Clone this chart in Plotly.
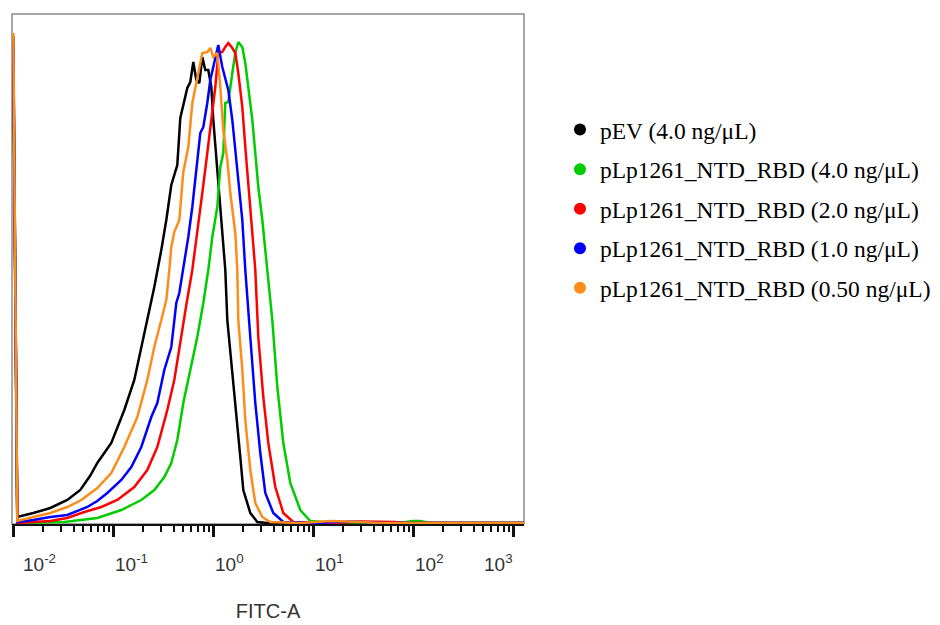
import numpy as np
import plotly.graph_objects as go

# ---------------- data (x in log10(FITC-A) decades, y in % of mode) ----------------
series_names = [
    "pEV (4.0 ng/μL)",
    "pLp1261_NTD_RBD (4.0 ng/μL)",
    "pLp1261_NTD_RBD (2.0 ng/μL)",
    "pLp1261_NTD_RBD (1.0 ng/μL)",
    "pLp1261_NTD_RBD (0.50 ng/μL)",
]
series_colors = ["#000000", "#00cc00", "#ff0000", "#0000ff", "#ff8c1a"]

pev_4_log = [-2.00, -1.96, -1.80, -1.63, -1.46, -1.33, -1.23, -1.16, -1.02, -0.89, -0.79, -0.72,
             -0.66, -0.59, -0.52, -0.47, -0.42, -0.36, -0.33, -0.29, -0.26, -0.23, -0.20, -0.17,
             -0.14, -0.11, -0.08, -0.05, -0.02, 0.00, 0.04, 0.07, 0.10, 0.12, 0.14, 0.19, 0.24,
             0.27, 0.30, 0.37, 0.44, 0.54, 0.87, 1.50, 2.50, 3.11]
pev_4_y = [97.4, 1.2, 2.0, 3.0, 4.6, 6.6, 9.5, 12, 16, 22.6, 28.6, 35.2, 40.6, 47.2, 54.6, 60.6,
           67.6, 71.6, 81, 84.6, 87, 88.2, 92.2, 88.6, 88, 93.2, 90.6, 90.6, 87.2, 80.6, 70.6,
           63.2, 55.2, 50.6, 40.6, 30.6, 20.6, 13.2, 6.6, 2.0, 0.2, 0, 0, 0.1, 0, 0]

rbd_4_log = [-2.00, -1.96, -1.49, -1.16, -0.92, -0.72, -0.59, -0.49, -0.42, -0.36, -0.30, -0.23,
             -0.16, -0.10, -0.05, -0.01, 0.04, 0.07, 0.10, 0.12, 0.15, 0.19, 0.22, 0.25, 0.29,
             0.32, 0.35, 0.39, 0.42, 0.45, 0.49, 0.54, 0.59, 0.64, 0.70, 0.77, 0.87, 0.97, 1.10,
             1.87, 1.99, 2.07, 2.17, 3.11]
rbd_4_y = [90, 0, 0.2, 1.0, 2.6, 4.6, 6.6, 9.2, 12, 16.6, 24, 30.6, 37.2, 44, 50.6, 57.2, 63.2,
           71.2, 74, 84, 84.2, 90, 94, 96.2, 95.2, 92, 87.2, 80.6, 74, 67.2, 60.6, 50.6, 40.6,
           27.2, 16, 8, 2.6, 0.4, 0.2, 0, 0.4, 0.4, 0, 0]

rbd_2_log = [-2.00, -1.96, -1.80, -1.63, -1.46, -1.29, -1.12, -0.96, -0.79, -0.66, -0.56, -0.46,
             -0.39, -0.33, -0.27, -0.21, -0.16, -0.11, -0.06, -0.01, 0.02, 0.05, 0.09, 0.12, 0.15,
             0.19, 0.22, 0.25, 0.29, 0.32, 0.35, 0.39, 0.42, 0.45, 0.50, 0.55, 0.62, 0.70, 0.80,
             1.20, 1.47, 1.67, 1.82, 1.90, 2.50, 3.11]
rbd_2_y = [93, 0, 0.2, 0.4, 1.0, 2.2, 3.2, 4.6, 7.2, 10.6, 15.2, 22.6, 28.6, 36.6, 43.6, 50.6,
           58, 66, 74, 82, 87.2, 94, 94.2, 95.2, 96, 95, 94, 90, 83.2, 75.2, 67.2, 58, 50.6,
           37.2, 25.2, 16, 7.2, 2.0, 0.2, 0, 0.3, 0.3, 0.2, 0, 0, 0]

rbd_1_log = [-2.00, -1.96, -1.80, -1.63, -1.46, -1.36, -1.26, -1.16, -1.06, -0.92, -0.82, -0.72,
             -0.62, -0.56, -0.49, -0.42, -0.37, -0.34, -0.30, -0.25, -0.21, -0.16, -0.13, -0.10,
             -0.06, -0.03, 0.02, 0.05, 0.09, 0.12, 0.15, 0.19, 0.22, 0.25, 0.29, 0.32, 0.37, 0.42,
             0.47, 0.52, 0.60, 0.70, 1.00, 1.27, 1.34, 1.47, 1.67, 2.50, 3.11]
rbd_1_y = [95.6, 0.2, 0.6, 1.2, 1.6, 2.4, 3.2, 4.4, 6.0, 8.6, 11.2, 15.2, 21.2, 24, 30.6, 35.2,
           44, 46, 50.6, 57.2, 63.2, 72.6, 78, 79.2, 84, 88.6, 92.6, 95.6, 91.2, 88.6, 86.6,
           80.6, 74, 68.6, 60.6, 50.6, 37.2, 24, 14, 6.0, 2.0, 0.2, 0, 0.2, 0.3, 0.2, 0, 0, 0]

rbd_05_log = [-2.00, -1.96, -1.80, -1.63, -1.46, -1.32, -1.16, -1.02, -0.89, -0.76, -0.66, -0.59,
              -0.52, -0.47, -0.44, -0.42, -0.39, -0.34, -0.30, -0.25, -0.21, -0.16, -0.13, -0.11,
              -0.06, -0.03, 0.00, 0.04, 0.07, 0.10, 0.14, 0.17, 0.22, 0.24, 0.25, 0.29, 0.32,
              0.37, 0.42, 0.49, 0.57, 0.87, 1.17, 1.27, 1.34, 1.47, 1.67, 2.50, 3.11]
rbd_05_y = [98, 0.4, 1.2, 2.0, 3.2, 4.6, 7.0, 10, 15.2, 21.2, 28.6, 35.2, 40.6, 44.6, 50.6, 55.2,
            58.2, 60.6, 70.2, 75.2, 84, 89.2, 92, 94, 94.2, 95, 93.2, 94, 87.2, 78.6, 72.6, 66,
            58, 50.6, 40.6, 30.6, 20.6, 10.6, 4.0, 1.2, 0.2, 0, 0.4, 0.4, 0.3, 0.2, 0, 0, 0]

series_logx = [pev_4_log, rbd_4_log, rbd_2_log, rbd_1_log, rbd_05_log]
series_y = [pev_4_y, rbd_4_y, rbd_2_y, rbd_1_y, rbd_05_y]

major_tick_values = [1e-2, 1e-1, 1e0, 1e1, 1e2, 1e3]
major_tick_labels = ["10<sup>-2</sup>", "10<sup>-1</sup>", "10<sup>0</sup>",
                     "10<sup>1</sup>", "10<sup>2</sup>", "10<sup>3</sup>"]
x_title = "FITC-A"

# ---------------- figure ----------------
fig = go.Figure()

for name, color, lx, yy in zip(series_names, series_colors, series_logx, series_y):
    fig.add_trace(go.Scatter(
        x=[10 ** v for v in lx], y=yy, mode="lines",
        line=dict(color=color, width=2.5),
        showlegend=False, hoverinfo="skip",
    ))

for i, (name, color) in enumerate(zip(series_names, series_colors)):
    fig.add_trace(go.Scatter(
        x=[None], y=[None], mode="markers", name=name,
        marker=dict(color=color, size=9, symbol="circle"),
        legendgroup=f"g{i}", showlegend=True,
    ))

minor_vals = [m * 10 ** d for d in range(-2, 3) for m in range(2, 10)]

fig.update_xaxes(
    type="log", range=[-2.013, 3.107],
    showgrid=False, zeroline=False,
    showline=True, linecolor="#111111", linewidth=2,
    ticks="outside", ticklen=11, tickwidth=3, tickcolor="#111111",
    tickmode="array", tickvals=major_tick_values, showticklabels=False,
    minor=dict(ticks="outside", ticklen=6, tickwidth=1.5, tickcolor="#111111",
               tickmode="array", tickvals=minor_vals, showgrid=False),
    title=dict(text=x_title, font=dict(family="Liberation Sans, Arial", size=20, color="#333333"),
               standoff=68),
)
fig.update_yaxes(range=[-0.2, 101.8], showgrid=False, zeroline=False, showline=False,
                 showticklabels=False, ticks="")

label_shift = [8, 0, 0, 0, 0, 2]
label_anchor = ["left", "left", "left", "left", "left", "right"]
for v, txt, sh, anc in zip(major_tick_values, major_tick_labels, label_shift, label_anchor):
    fig.add_annotation(
        x=np.log10(v), xref="x", y=0, yref="paper", yanchor="top", xanchor=anc,
        yshift=-25, xshift=sh, text=txt, showarrow=False,
        font=dict(family="Liberation Sans, Arial", size=19, color="#333333"),
    )

fig.add_shape(type="rect", xref="paper", yref="paper", x0=0, y0=0, x1=1, y1=1,
              line=dict(color="#8a8a8a", width=1.5), layer="below")

fig.update_layout(
    width=960, height=625,
    margin=dict(l=4, r=444, t=6, b=109),
    paper_bgcolor="white", plot_bgcolor="white",
    legend=dict(x=1.0703, xanchor="left", y=0.816, yanchor="top",
                font=dict(family="Liberation Serif, Times New Roman", size=23.5, color="#000000"),
                tracegroupgap=6, bgcolor="rgba(0,0,0,0)", itemsizing="constant"),
)

fig.write_html("out.html")
